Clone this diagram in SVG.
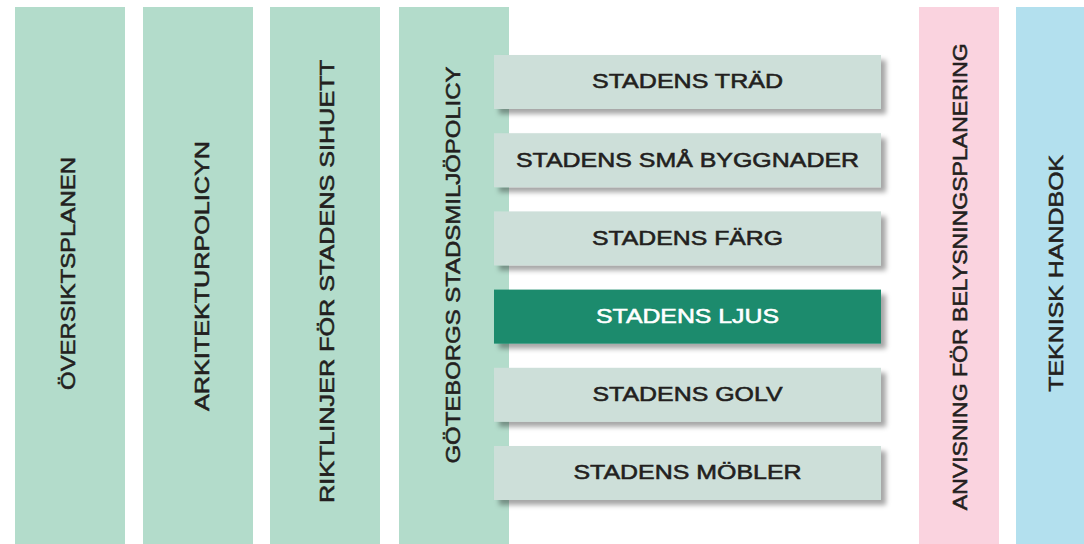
<svg xmlns="http://www.w3.org/2000/svg" width="1084" height="544" viewBox="0 0 1084 544">
  <defs>
    <filter id="shadow" x="-5%" y="-20%" width="115%" height="160%">
      <feDropShadow dx="5" dy="5" stdDeviation="2.5" flood-color="#000" flood-opacity="0.35"/>
    </filter>
  </defs>
  <style>
    .col { fill: #b3dccb; }
    .pink { fill: #fad3df; }
    .blue { fill: #b3e0ee; }
    .box { fill: #cddfd9; filter: url(#shadow); }
    .box-hl { fill: #1a8b6d; filter: url(#shadow); }
    .vt { font-family: "Liberation Sans", Arial, sans-serif; font-size: 20.5px; fill: #231f20; stroke: #231f20; stroke-width: 0.55px; text-anchor: middle; }
    .bt { font-family: "Liberation Sans", Arial, sans-serif; font-size: 20px; fill: #231f20; stroke: #231f20; stroke-width: 0.55px; text-anchor: middle; }
    .bt-hl { font-family: "Liberation Sans", Arial, sans-serif; font-size: 20px; fill: #ffffff; stroke: #ffffff; stroke-width: 0.55px; text-anchor: middle; }
  </style>
  <rect width="1084" height="544" fill="#ffffff"/>

  <g id="oversiktsplanen">
    <rect class="col" x="15" y="7" width="110" height="537"/>
    <text class="vt" transform="translate(74.5,273.5) rotate(-90)" textLength="233" lengthAdjust="spacingAndGlyphs">ÖVERSIKTSPLANEN</text>
  </g>
  <g id="arkitekturpolicyn">
    <rect class="col" x="143" y="7" width="110" height="537"/>
    <text class="vt" transform="translate(209,276) rotate(-90)" textLength="270" lengthAdjust="spacingAndGlyphs">ARKITEKTURPOLICYN</text>
  </g>
  <g id="riktlinjer">
    <rect class="col" x="270" y="7" width="110" height="537"/>
    <text class="vt" transform="translate(334.3,281.5) rotate(-90)" textLength="443" lengthAdjust="spacingAndGlyphs">RIKTLINJER FÖR STADENS SIHUETT</text>
  </g>
  <g id="stadsmiljopolicy">
    <rect class="col" x="399" y="7" width="110" height="537"/>
    <text class="vt" transform="translate(460,265) rotate(-90)" textLength="397" lengthAdjust="spacingAndGlyphs">GÖTEBORGS STADSMILJÖPOLICY</text>
  </g>
  <g id="belysningsplanering">
    <rect class="pink" x="919" y="7" width="80" height="537"/>
    <text class="vt" transform="translate(967,276.7) rotate(-90)" textLength="467" lengthAdjust="spacingAndGlyphs">ANVISNING FÖR BELYSNINGSPLANERING</text>
  </g>
  <g id="teknisk-handbok">
    <rect class="blue" x="1016" y="7" width="80" height="537"/>
    <text class="vt" transform="translate(1063,273.3) rotate(-90)" textLength="237" lengthAdjust="spacingAndGlyphs">TEKNISK HANDBOK</text>
  </g>

  <g id="stadens-trad">
    <rect class="box" x="494" y="55" width="387" height="54"/>
    <text class="bt" x="687.5" y="88.4" textLength="191" lengthAdjust="spacingAndGlyphs">STADENS TRÄD</text>
  </g>
  <g id="stadens-sma-byggnader">
    <rect class="box" x="494" y="133.2" width="387" height="54"/>
    <text class="bt" x="687.5" y="166.6" textLength="343" lengthAdjust="spacingAndGlyphs">STADENS SMÅ BYGGNADER</text>
  </g>
  <g id="stadens-farg">
    <rect class="box" x="494" y="211.4" width="387" height="54"/>
    <text class="bt" x="687.5" y="244.8" textLength="191" lengthAdjust="spacingAndGlyphs">STADENS FÄRG</text>
  </g>
  <g id="stadens-ljus">
    <rect class="box-hl" x="494" y="289.6" width="387" height="54"/>
    <text class="bt-hl" x="687.5" y="323.4" textLength="183" lengthAdjust="spacingAndGlyphs">STADENS LJUS</text>
  </g>
  <g id="stadens-golv">
    <rect class="box" x="494" y="367.8" width="387" height="54"/>
    <text class="bt" x="687.5" y="401.2" textLength="190" lengthAdjust="spacingAndGlyphs">STADENS GOLV</text>
  </g>
  <g id="stadens-mobler">
    <rect class="box" x="494" y="446" width="387" height="54"/>
    <text class="bt" x="687.5" y="479.4" textLength="228" lengthAdjust="spacingAndGlyphs">STADENS MÖBLER</text>
  </g>

  <g id="connectors"/>
</svg>
